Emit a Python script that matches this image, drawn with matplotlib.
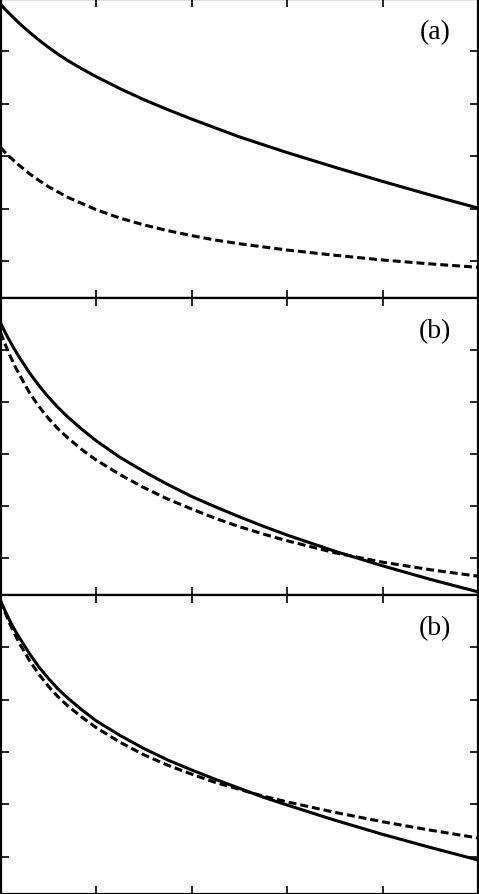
import matplotlib
matplotlib.use("Agg")
import matplotlib.pyplot as plt

# shared x positions of the read points
x = [0, 0.05, 0.1, 0.15, 0.2, 0.3, 0.4, 0.5, 0.6, 0.7, 0.85, 1.0, 1.25, 1.5,
     1.75, 2.0, 2.25, 2.5, 2.75, 3.0, 3.5, 4.0, 4.5, 5.0]

# panel (a)
a_solid = [5.90, 5.80, 5.71, 5.62, 5.53, 5.37, 5.22, 5.08, 4.95, 4.83, 4.67, 4.52,
           4.29, 4.08, 3.89, 3.71, 3.54, 3.37, 3.22, 3.07, 2.79, 2.52, 2.26, 2.01]
a_dashed = [3.17, 3.07, 2.98, 2.90, 2.82, 2.67, 2.54, 2.42, 2.32, 2.22, 2.10, 1.98,
            1.82, 1.69, 1.58, 1.485, 1.40, 1.33, 1.27, 1.21, 1.11, 1.02, 0.945, 0.88]

# panel (b)
b_solid = [5.52, 5.33, 5.16, 5.00, 4.85, 4.57, 4.32, 4.10, 3.90, 3.72, 3.48, 3.26,
           2.94, 2.67, 2.42, 2.19, 1.99, 1.80, 1.62, 1.45, 1.14, 0.86, 0.60, 0.36]
b_dashed = [5.33, 5.10, 4.89, 4.69, 4.52, 4.19, 3.92, 3.69, 3.49, 3.32, 3.09, 2.89,
            2.61, 2.36, 2.14, 1.95, 1.77, 1.61, 1.47, 1.34, 1.11, 0.93, 0.785, 0.66]

# panel (c) (labelled "(b)" in the source)
c_solid = [5.89, 5.69, 5.50, 5.33, 5.18, 4.89, 4.63, 4.41, 4.21, 4.04, 3.81, 3.60,
           3.32, 3.07, 2.85, 2.66, 2.48, 2.31, 2.14, 1.99, 1.70, 1.43, 1.18, 0.94]
c_dashed = [5.89, 5.66, 5.44, 5.25, 5.07, 4.76, 4.49, 4.26, 4.06, 3.89, 3.67, 3.47,
            3.19, 2.95, 2.75, 2.58, 2.42, 2.29, 2.16, 2.05, 1.85, 1.67, 1.51, 1.36]

panel_labels = ["(a)", "(b)", "(b)"]
x_ticks = [1, 2, 3, 4]
y_ticks = [1, 2, 3, 4, 5]

W, H = 479, 894
fig = plt.figure(figsize=(W / 100, H / 100), dpi=100)

# panel boundaries in pixels (top, bottom)
bounds = [(-1.0, 297.7), (297.7, 595.0), (595.0, 893.5)]
left_px, right_px = 0.5, 478.0

series = [(a_solid, a_dashed), (b_solid, b_dashed), (c_solid, c_dashed)]

for (top, bot), (s, d), lab in zip(bounds, series, panel_labels):
    ax = fig.add_axes([left_px / W, (H - bot) / H, (right_px - left_px) / W, (bot - top) / H])
    ax.plot(x, s, color="black", lw=2.2, solid_capstyle="butt", solid_joinstyle="round")
    ax.plot(x, d, color="black", lw=2.2, linestyle=(0, (2.6, 1.3)))
    ax.set_xlim(0, 5)
    ax.set_ylim(0.3, 6.0)
    ax.set_xticks(x_ticks)
    ax.set_yticks(y_ticks)
    ax.tick_params(direction="in", length=6, width=1.2, top=True, right=True,
                   labelbottom=False, labelleft=False)
    for sp in ax.spines.values():
        sp.set_linewidth(1.6)
    ax.text(0.91, 0.887, lab, transform=ax.transAxes, ha="center", va="center",
            fontsize=20, family="Liberation Serif")

fig.savefig("out.png", dpi=100)
